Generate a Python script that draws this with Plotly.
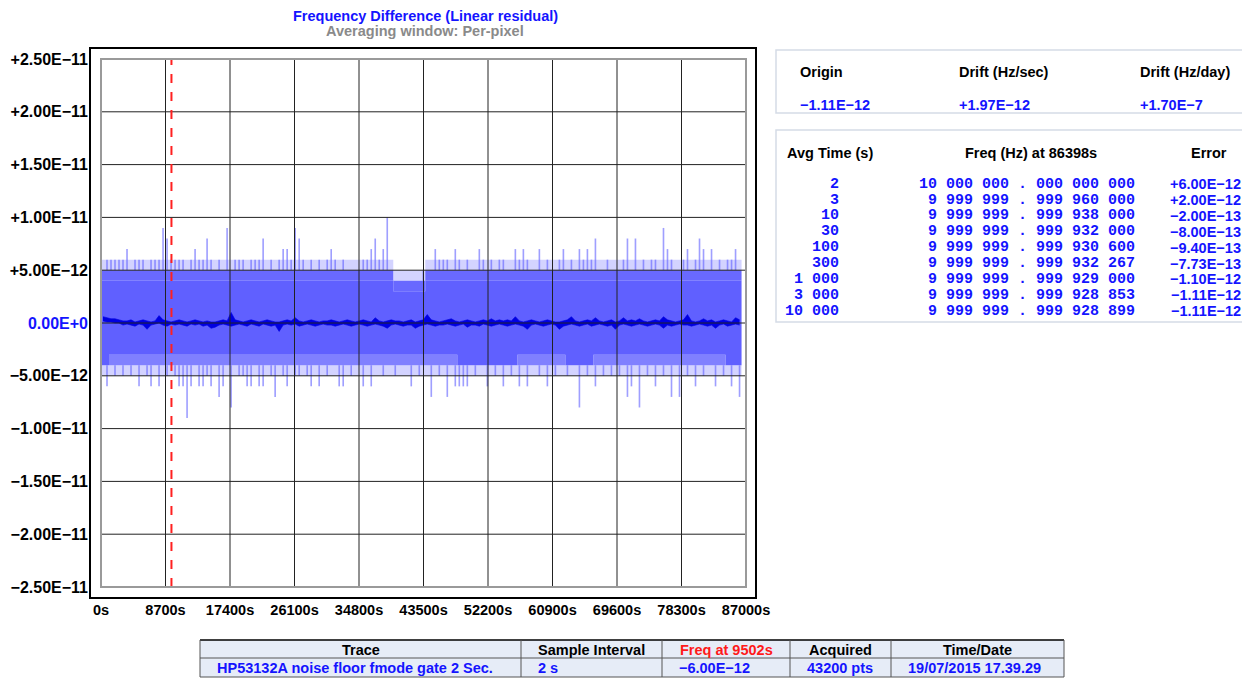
import plotly.graph_objects as go

# ---------------- data ----------------
x_tick_vals = [0, 8700, 17400, 26100, 34800, 43500, 52200, 60900, 69600, 78300, 87000]
x_tick_text = ["0s", "8700s", "17400s", "26100s", "34800s", "43500s", "52200s",
               "60900s", "69600s", "78300s", "87000s"]
y_tick_vals = [2.5e-11, 2.0e-11, 1.5e-11, 1.0e-11, 5e-12, 0.0,
               -5e-12, -1.0e-11, -1.5e-11, -2.0e-11, -2.5e-11]
y_tick_text = ["+2.50E\u221211", "+2.00E\u221211", "+1.50E\u221211", "+1.00E\u221211",
               "+5.00E\u221212", "<span style='color:#1414ff'>0.00E+0</span>",
               "\u22125.00E\u221212", "\u22121.00E\u221211", "\u22121.50E\u221211",
               "\u22122.00E\u221211", "\u22122.50E\u221211"]

unit = 1e-12           # spike / band levels are in units of 1e-12
avg_unit = 1e-13       # running-average band levels are in units of 1e-13
bin_width_s = 540      # one bin per ~4 screen pixels
record_end_s = 86400
cursor_s = 9502

# band levels per segment (start time of each segment, seconds)
seg_start = [0, 1080, 39420, 43740, 48060, 56160, 62640, 66420, 84240]
top_fringe = [6, 6, 5, 6, 6, 6, 6, 6, 6]
top_semi = [5, 5, 4, 5, 5, 5, 5, 5, 5]
top_solid = [4, 4, 3, 4, 4, 4, 4, 4, 4]
bot_solid = [-4, -3, -3, -3, -4, -3, -4, -3, -4]
bot_semi = [-4, -4, -4, -4, -4, -4, -4, -4, -4]
bot_fringe = [-5, -5, -5, -5, -5, -5, -5, -5, -5]

# per-bin extreme excursions (1e-12)
upper_peak = [5, 6, 6, 6, 6, 6, 7, 5, 6, 6, 6, 5, 6, 6, 6, 9, 8, 6, 6, 6,
              6, 5, 6, 7, 6, 6, 8, 6, 5, 6, 5, 9, 5, 6, 6, 6, 5, 6, 6, 6,
              8, 5, 6, 5, 6, 7, 7, 6, 9, 8, 6, 5, 6, 5, 6, 5, 6, 7, 6, 5,
              6, 5, 5, 5, 5, 6, 6, 7, 8, 6, 7, 10, 5, 4, 4, 4, 4, 4, 4, 4,
              5, 5, 5, 7, 6, 6, 6, 5, 7, 6, 5, 6, 5, 5, 7, 6, 5, 6, 5, 6,
              6, 5, 5, 7, 6, 7, 6, 5, 5, 7, 5, 6, 5, 5, 6, 7, 5, 6, 5, 7,
              6, 7, 6, 8, 5, 5, 6, 5, 5, 5, 6, 8, 5, 8, 5, 6, 5, 6, 6, 5,
              9, 7, 6, 5, 5, 6, 7, 5, 6, 8, 7, 5, 7, 5, 6, 5, 6, 6, 7, 5]
lower_peak = [-4, -6, -4, -5, -4, -5, -4, -5, -4, -6, -4, -5, -6, -4, -6, -4, -5, -4, -5, -6,
              -6, -9, -6, -4, -6, -6, -5, -6, -4, -7, -6, -4, -8, -4, -5, -5, -6, -6, -4, -6,
              -6, -4, -5, -7, -4, -5, -6, -4, -5, -5, -4, -5, -6, -4, -6, -4, -5, -4, -4, -6,
              -6, -4, -5, -4, -4, -6, -4, -6, -4, -4, -5, -4, -4, -5, -4, -4, -4, -6, -4, -5,
              -4, -4, -7, -4, -5, -4, -7, -4, -6, -6, -6, -6, -4, -5, -4, -4, -6, -4, -5, -4,
              -6, -4, -5, -4, -6, -4, -6, -4, -4, -5, -4, -6, -4, -5, -4, -4, -5, -4, -4, -8,
              -4, -5, -4, -6, -4, -5, -4, -5, -4, -5, -4, -7, -6, -4, -8, -4, -5, -4, -6, -4,
              -5, -4, -7, -4, -7, -4, -5, -4, -6, -4, -5, -4, -4, -6, -4, -5, -4, -6, -4, -7]

# per-bin running-average envelope (1e-13)
avg_hi = [6, 5, 4, 4, 3, 2, 2, 3, 1, 2, 3, 2, 1, 2, 7, 3, 2, 1, 2, 3,
          2, 1, 2, 3, 2, 1, 2, 1, 1, 2, 3, 2, 10, 3, 2, 1, 2, 3, 2, 1,
          2, 3, 2, 1, 1, 2, 3, 2, 5, 2, 1, 2, 3, 2, 1, 2, 2, 3, 2, 1,
          2, 3, 2, 1, 2, 3, 2, 1, 5, 2, 1, 2, 3, 2, 2, 1, 2, 3, 1, 2,
          3, 8, 3, 2, 1, 2, 3, 4, 2, 1, 2, 3, 2, 1, 2, 3, 2, 4, 2, 3,
          2, 3, 2, 6, 2, 1, 2, 3, 2, 1, 2, 3, 2, 1, 1, 2, 3, 6, 2, 1,
          2, 3, 2, 5, 2, 1, 2, 3, 1, 2, 5, 2, 3, 2, 4, 2, 1, 2, 3, 2,
          6, 3, 2, 1, 2, 3, 8, 2, 1, 2, 4, 2, 3, 1, 2, 3, 2, 1, 5, 3]
avg_lo = [2, 1, 1, 0, 0, -2, -1, -2, -3, -1, -2, -6, -2, -1, 0, -2, -3, -1, -2, -1,
          -2, -3, -1, -2, -1, -3, -2, -5, -4, -2, -1, -2, -3, -2, -1, -2, -3, -1, -2, -3,
          -1, -2, -3, -2, -8, -2, -1, -2, -1, -3, -2, -1, -2, -3, -2, -1, -2, -2, -3, -2,
          -1, -2, -3, -2, -1, -2, -3, -2, -1, -2, -3, -5, -2, -1, -2, -3, -2, -2, -5, -3,
          -2, -1, -2, -3, -2, -2, -1, -2, -3, -2, -1, -4, -2, -2, -3, -1, -2, -3, -2, -1,
          -2, -3, -2, -1, -2, -3, -6, -2, -1, -2, -3, -2, -1, -2, -6, -3, -2, -1, -2, -3,
          -2, -1, -3, -2, -1, -2, -3, -2, -6, -2, -1, -2, -3, -2, -1, -2, -3, -2, -1, -2,
          -5, -2, -3, -2, -1, -2, -2, -3, -2, -1, -2, -3, -2, -5, -2, -1, -3, -2, -1, -2]

drift_headers = ["Origin", "Drift (Hz/sec)", "Drift (Hz/day)"]
drift_values = ["\u22121.11E\u221212", "+1.97E\u221212", "+1.70E\u22127"]

avg_times = ["2", "3", "10", "30", "100", "300", "1 000", "3 000", "10 000"]
freqs = ["10 000 000 . 000 000 000", "9 999 999 . 999 960 000", "9 999 999 . 999 938 000",
         "9 999 999 . 999 932 000", "9 999 999 . 999 930 600", "9 999 999 . 999 932 267",
         "9 999 999 . 999 929 000", "9 999 999 . 999 928 853", "9 999 999 . 999 928 899"]
errors = ["+6.00E\u221212", "+2.00E\u221212", "\u22122.00E\u221213", "\u22128.00E\u221213",
          "\u22129.40E\u221213", "\u22127.73E\u221213", "\u22121.10E\u221212",
          "\u22121.11E\u221212", "\u22121.11E\u221212"]

table_headers = ["Trace", "Sample Interval", "Freq at 9502s", "Acquired", "Time/Date"]
table_values = ["HP53132A noise floor fmode gate 2 Sec.", "2 s", "\u22126.00E\u221212",
                "43200 pts", "19/07/2015 17.39.29"]

# ---------------- geometry helpers ----------------
# page is drawn with an 8px body margin, so the figure is 8px smaller and offset
OFF = 8
W, H = 1250 - OFF, 679 - OFF
L, R, T, B = 101, 746, 59, 587          # plot area in screenshot pixels
PW, PH = R - L, B - T


def px(xp):
    return (xp - L) / PW


def py(yp):
    return (B - yp) / PH


FONT = "Liberation Sans, Arial, sans-serif"
MONO = "Liberation Mono, Courier New, monospace"
BLUE = "#1414ff"
BAND = "rgb(96,96,255)"

# ---------------- derived series ----------------
bin_t = [bin_width_s * (k + 0.5) for k in range(len(upper_peak))]


def seg_lookup(levels, t):
    idx = 0
    for i, s in enumerate(seg_start):
        if t >= s:
            idx = i
    return levels[idx]


x_step = seg_start + [record_end_s]


def step_y(levels):
    return [v * unit for v in levels] + [levels[-1] * unit]


fig = go.Figure()

# band tiers (bottom to top, each filled to the previous)
tiers = [
    (bot_fringe, None),
    (bot_semi, "rgba(96,96,255,0.28)"),
    (bot_solid, "rgba(96,96,255,0.8)"),
    (top_solid, BAND),
    (top_semi, "rgba(96,96,255,0.94)"),
    (top_fringe, "rgba(96,96,255,0.28)"),
]
for levels, color in tiers:
    if color is None:
        fig.add_trace(go.Scatter(x=x_step, y=step_y(levels), mode="lines",
                                 line=dict(width=0, shape="hv"), hoverinfo="skip"))
    else:
        fig.add_trace(go.Scatter(x=x_step, y=step_y(levels), mode="lines",
                                 line=dict(width=0, shape="hv"), fill="tonexty",
                                 fillcolor=color, hoverinfo="skip"))

# spikes beyond the band
up_base = [seg_lookup(top_semi, t) for t in bin_t]
lo_base = [seg_lookup(bot_semi, t) for t in bin_t]
fig.add_trace(go.Bar(x=bin_t, y=[max(p - b, 0) * unit for p, b in zip(upper_peak, up_base)],
                     base=[b * unit for b in up_base], width=220,
                     marker=dict(color="rgba(80,80,255,0.55)", line=dict(width=0)), hoverinfo="skip"))
fig.add_trace(go.Bar(x=bin_t, y=[min(p - b, 0) * unit for p, b in zip(lower_peak, lo_base)],
                     base=[b * unit for b in lo_base], width=220,
                     marker=dict(color="rgba(80,80,255,0.55)", line=dict(width=0)), hoverinfo="skip"))

# running average (dark blue)
fig.add_trace(go.Scatter(x=bin_t, y=[v * avg_unit for v in avg_lo], mode="lines",
                         line=dict(width=0.6, color="rgb(0,0,225)"), hoverinfo="skip"))
fig.add_trace(go.Scatter(x=bin_t, y=[v * avg_unit for v in avg_hi], mode="lines",
                         line=dict(width=0.6, color="rgb(0,0,225)"), fill="tonexty",
                         fillcolor="rgb(0,0,225)", hoverinfo="skip"))

shapes = []
# grid lines above the data
for xv in x_tick_vals[1:-1]:
    shapes.append(dict(type="line", xref="x", yref="paper", x0=xv, x1=xv, y0=0, y1=1,
                       line=dict(color="#222222", width=1), layer="above"))
for yv in y_tick_vals[1:-1]:
    shapes.append(dict(type="line", xref="paper", yref="y", x0=0, x1=1, y0=yv, y1=yv,
                       line=dict(color="#222222", width=1), layer="above"))
# cursor
shapes.append(dict(type="line", xref="x", yref="paper", x0=cursor_s, x1=cursor_s, y0=0, y1=1,
                   line=dict(color="#ff2020", width=2, dash="dash"), layer="above"))
# inner border and outer frame
shapes.append(dict(type="rect", xref="paper", yref="paper", x0=0, x1=1, y0=0, y1=1,
                   line=dict(color="#9a9a9a", width=2), layer="above"))
shapes.append(dict(type="rect", xref="paper", yref="paper", x0=px(90), x1=px(756), y0=py(598), y1=py(48),
                   line=dict(color="#000000", width=2), layer="above"))
# right-hand boxes
for (y0p, y1p) in [(50, 113), (130, 322)]:
    shapes.append(dict(type="rect", xref="paper", yref="paper", x0=px(776), x1=px(1248),
                       y0=py(y1p), y1=py(y0p), line=dict(color="#d5dbe6", width=1.5)))
# bottom table
shapes.append(dict(type="rect", xref="paper", yref="paper", x0=px(200), x1=px(1064),
                   y0=py(677), y1=py(640), fillcolor="#e6ecf7", line=dict(width=0), layer="below"))
shapes.append(dict(type="line", xref="paper", yref="paper", x0=px(200), x1=px(1064), y0=py(640), y1=py(640),
                   line=dict(color="#000000", width=1.5)))
for yl in [658, 677]:
    shapes.append(dict(type="line", xref="paper", yref="paper", x0=px(200), x1=px(1064), y0=py(yl), y1=py(yl),
                       line=dict(color="#555555", width=1)))
for xl in [200, 521, 662, 790, 891, 1064]:
    shapes.append(dict(type="line", xref="paper", yref="paper", x0=px(xl), x1=px(xl), y0=py(677), y1=py(640),
                       line=dict(color="#555555", width=1)))

ann = []


def add_text(text, xp, yp, anchor="left", size=14.5, color="black", family=FONT):
    ann.append(dict(text=text, xref="paper", yref="paper", x=px(xp), y=py(yp), xanchor=anchor,
                    yanchor="middle", showarrow=False, borderpad=0,
                    font=dict(family=family, size=size, color=color)))


add_text("<b>Frequency Difference (Linear residual)</b>", 425, 16, "center", 14.5, BLUE)
add_text("<b>Averaging window: Per-pixel</b>", 425, 31, "center", 14.5, "#8a8a8a")

for h, v, xp in zip(drift_headers, drift_values, [799, 958, 1139]):
    add_text("<b>%s</b>" % h, xp, 72.5, "left", 14.5, "black")
    add_text("<b>%s</b>" % v, xp, 104.5, "left", 14.5, BLUE)

add_text("<b>Avg Time (s)</b>", 786, 152.5, "left", 14.5, "black")
add_text("<b>Freq (Hz) at 86398s</b>", 964, 152.5, "left", 14.5, "black")
add_text("<b>Error</b>", 1228, 152.5, "right", 14.5, "black")
for i, (a, f, e) in enumerate(zip(avg_times, freqs, errors)):
    yr = 184.3 + i * 15.84
    add_text("<b>%s</b>" % a, 840, yr, "right", 15, BLUE, MONO)
    add_text("<b>%s</b>" % f, 1136, yr, "right", 15, BLUE, MONO)
    add_text("<b>%s</b>" % e, 1242, yr, "right", 14.5, BLUE)

col_edges = [200, 521, 662, 790, 891, 1064]
for i, (h, v) in enumerate(zip(table_headers, table_values)):
    cx = (col_edges[i] + col_edges[i + 1]) / 2
    add_text("<b>%s</b>" % h, cx, 649.5, "center", 14.5, "#ff1a1a" if i == 2 else "black")
    add_text("<b>%s</b>" % v, col_edges[i] + 16, 668, "left", 14.5, BLUE)

fig.update_layout(
    width=W, height=H, autosize=False,
    margin=dict(l=L - OFF, r=W - (R - OFF), t=T - OFF, b=H - (B - OFF), pad=0, autoexpand=False),
    paper_bgcolor="white", plot_bgcolor="white",
    showlegend=False, barmode="overlay",
    shapes=shapes, annotations=ann,
    xaxis=dict(range=[0, 87000], tickmode="array", tickvals=x_tick_vals,
               ticktext=["<b>%s</b>" % t for t in x_tick_text],
               showgrid=False, zeroline=False, showline=False, ticks="",
               ticklabelstandoff=12, automargin=False,
               tickfont=dict(family=FONT, size=14.5, color="black"), fixedrange=True),
    yaxis=dict(range=[-2.5e-11, 2.5e-11], tickmode="array", tickvals=y_tick_vals,
               ticktext=["<b>%s</b>" % t for t in y_tick_text],
               showgrid=False, zeroline=False, showline=False, ticks="",
               ticklabelstandoff=12, automargin=False,
               tickfont=dict(family=FONT, size=16, color="black"), fixedrange=True),
)

fig.write_html("out.html")
